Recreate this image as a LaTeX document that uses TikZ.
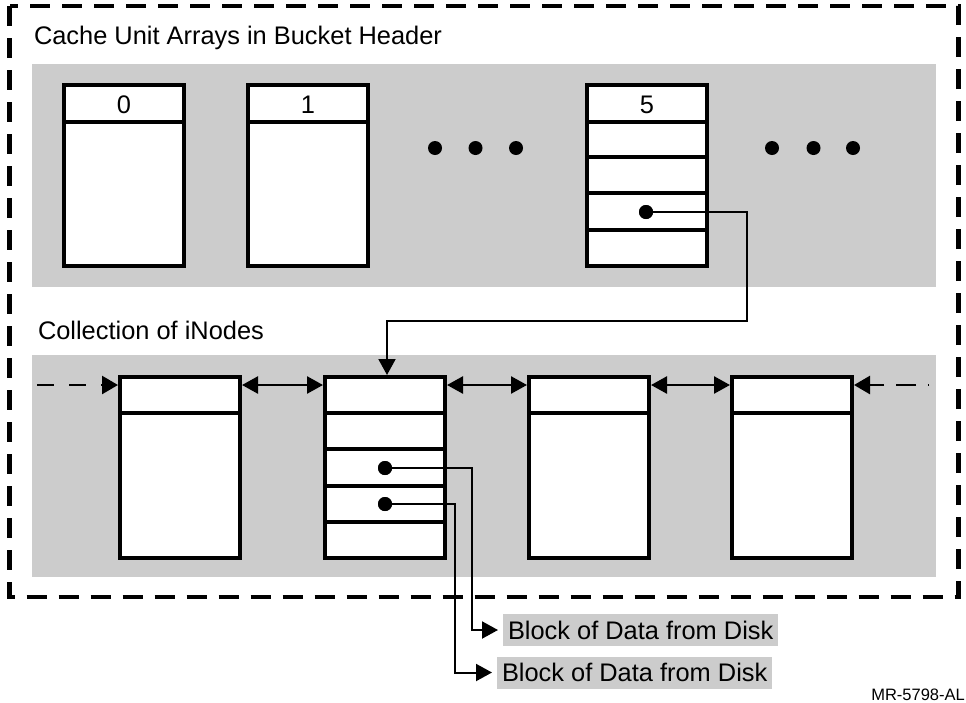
\documentclass[tikz,border=0pt]{standalone}
\usepackage{fontspec}
\setmainfont{Liberation Sans}
\usetikzlibrary{arrows.meta,calc}
\definecolor{panel}{HTML}{CCCCCC}
\begin{document}
\begin{tikzpicture}[x=1pt,y=-1pt,
  txt/.style={font=\fontsize{25.4pt}{30pt}\selectfont, inner sep=0pt, outer sep=0pt},
  cell/.style={draw=black, fill=white, line width=4pt, minimum width=120pt, minimum height=181pt, inner sep=0pt, outer sep=0pt, anchor=north west},
  divline/.style={line width=4pt},
  ptr/.style={line width=2pt},
  tipend/.style={-{Triangle[length=16pt,width=17pt]}},
  link/.style={line width=2.5pt, {Triangle[length=16pt,width=17pt]}-{Triangle[length=16pt,width=17pt]}, shorten <=2pt, shorten >=2pt},
  feed/.style={line width=2.5pt, -{Triangle[length=16pt,width=18pt]}, shorten >=2pt},
  blob/.style={circle, fill=black, inner sep=0pt, minimum size=14pt},
  lab/.style={txt, fill=panel, inner xsep=5pt, inner ysep=6.9pt, text height=18.2pt, text depth=0pt, anchor=west}
]
\useasboundingbox (0,0) rectangle (966,702);

% panels
\fill[panel] (32,64) rectangle (936,287);
\fill[panel] (32,355) rectangle (936,577);

% outer dashed frame
\draw[line width=4.5pt, dash pattern=on 20pt off 12pt] (9.5,6) rectangle (958.5,597);

% titles
\node[txt, anchor=base west] (t1) at (34,44.5) {Cache Unit Arrays in Bucket Header};
\node[txt, anchor=base west] (t2) at (38,339.5) {Collection of iNodes};
\node[font=\fontsize{16.5pt}{20pt}\selectfont, inner sep=0pt, anchor=base east] (mr) at (965,700) {MR-5798-AL};

% cache unit arrays
\node[cell] (cu0) at (64,85) {};
\node[cell] (cu1) at (248,85) {};
\node[cell] (cu5) at (587,85) {};
\foreach \c in {cu0,cu1}{
  \draw[divline] ($(\c.north west)+(0,37)$) -- ($(\c.north east)+(0,37)$);
}
\foreach \o in {37,72,108,145}{
  \draw[divline] ($(cu5.north west)+(0,\o)$) -- ($(cu5.north east)+(0,\o)$);
}
\node[txt] (n0) at ($(cu0.north)+(0,20)$) {0};
\node[txt] (n1) at ($(cu1.north)+(0,20)$) {1};
\node[txt] (n5) at ($(cu5.north)+(0,20)$) {5};

% ellipsis dots
\foreach \x [count=\i] in {435,475.5,516,772,813.5,853}{
  \node[blob] (e\i) at (\x,148) {};
}

% iNodes
\node[cell] (A) at (120,377) {};
\node[cell] (B) at (325,377) {};
\node[cell] (C) at (529,377) {};
\node[cell] (D) at (732,377) {};
\foreach \c in {A,C,D}{
  \draw[divline] ($(\c.north west)+(0,36)$) -- ($(\c.north east)+(0,36)$);
}
\foreach \o in {36,72,109,145}{
  \draw[divline] ($(B.north west)+(0,\o)$) -- ($(B.north east)+(0,\o)$);
}

% row of links
\coordinate (row) at (0,385);
\coordinate (lin) at (37,385);
\coordinate (rin) at (929,385);
\draw[link] (A.east |- row) -- (B.west |- row);
\draw[link] (B.east |- row) -- (C.west |- row);
\draw[link] (C.east |- row) -- (D.west |- row);
\draw[feed, dash pattern=on 17pt off 15pt] (lin) -- (A.west |- row);
\draw[feed, dash pattern=on 20pt off 12pt, dash phase=19pt] (rin) -- (D.east |- row);

% pointer dots
\node[blob] (d5) at (646,212) {};
\node[blob] (b1) at (385,468) {};
\node[blob] (b2) at (385,504) {};

% pointer from cache unit 5 to iNode B
\coordinate (q1) at (747,212);
\coordinate (q2) at (747,321);
\coordinate (Bin) at ($(B.north)+(2,0)$);
\draw[ptr, tipend, shorten >=2pt] (d5.center) -- (q1) -- (q2) -| (Bin);

% data blocks
\node[lab] (L1) at (503,630) {Block of Data from Disk};
\node[lab] (L2) at (497,672.5) {Block of Data from Disk};
\coordinate (k1) at (472,468);
\coordinate (k2) at (455,504);
\draw[ptr, tipend, shorten >=5pt] (b1.center) -- (k1) |- (L1.west);
\draw[ptr, tipend, shorten >=5pt] (b2.center) -- (k2) |- (L2.west);

% redraw dots on top
\node[blob] at (d5) {};
\node[blob] at (b1) {};
\node[blob] at (b2) {};
\end{tikzpicture}
\end{document}
